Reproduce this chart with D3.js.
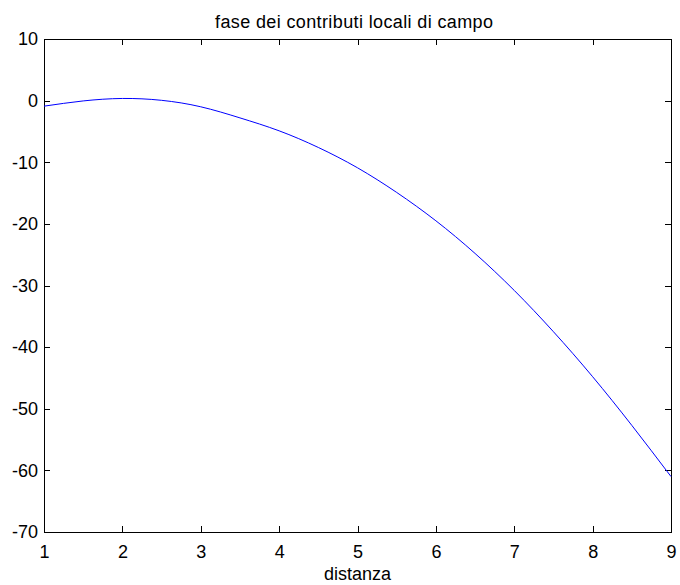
<!DOCTYPE html>
<html lang="en">
<head>
<meta charset="UTF-8">
<title>fase dei contributi locali di campo</title>
<script src="https://d3js.org/d3.v7.min.js"></script>
<style>
  body { margin: 0; background: #fff; }
  text { font-family: Arial, "Liberation Sans", sans-serif; fill: #000; }
  .axis path, .axis line { stroke: #000; shape-rendering: crispEdges; }
</style>
</head>
<body>
<div id="chart"></div>
<script>
// distanza values (x) and phase (y)
var distanza = [1, 1.5, 2, 2.5, 3, 3.5, 4, 4.5, 5, 5.5, 6, 6.5, 7, 7.5, 8, 8.5, 9];
var fase = [-0.9, -0.05, 0.35, 0.05, -1.0, -2.8, -4.9, -7.6, -10.9, -14.9, -19.5, -24.8, -30.8, -37.5, -44.8, -52.7, -61.0];
var xTicks = [1, 2, 3, 4, 5, 6, 7, 8, 9];
var yTicks = [10, 0, -10, -20, -30, -40, -50, -60, -70];

var W = 680, H = 585;
var margin = {top: 39, right: 9, bottom: 53, left: 44};
var width = W - margin.left - margin.right,
    height = H - margin.top - margin.bottom;

var svg = d3.select("#chart").append("svg")
    .attr("width", W)
    .attr("height", H);

var g = svg.append("g")
    .attr("transform", "translate(" + margin.left + "," + margin.top + ")");

var x = d3.scaleLinear().domain([1, 9]).range([0, width]);
var y = d3.scaleLinear().domain([-70, 10]).range([height, 0]);
var plain = function(d) { return String(d); }; // hyphen minus, as in the original

// frame
g.append("rect")
    .attr("width", width)
    .attr("height", height)
    .attr("fill", "none")
    .attr("stroke", "#000")
    .attr("shape-rendering", "crispEdges");

// axes with inward ticks on all four sides
var axBottom = g.append("g").attr("class", "axis")
    .attr("transform", "translate(0," + height + ")")
    .call(d3.axisBottom(x).tickValues(xTicks).tickFormat(plain).tickSize(-6).tickPadding(13).tickSizeOuter(0));
var axTop = g.append("g").attr("class", "axis")
    .call(d3.axisTop(x).tickValues(xTicks).tickSize(-6).tickSizeOuter(0));
axTop.selectAll("text").remove();
var axLeft = g.append("g").attr("class", "axis")
    .call(d3.axisLeft(y).tickValues(yTicks).tickFormat(plain).tickSize(-6).tickPadding(6).tickSizeOuter(0));
var axRight = g.append("g").attr("class", "axis")
    .attr("transform", "translate(" + width + ",0)")
    .call(d3.axisRight(y).tickValues(yTicks).tickSize(-6).tickSizeOuter(0));
axRight.selectAll("text").remove();

g.selectAll(".axis text")
    .style("font-family", "Arial, 'Liberation Sans', sans-serif")
    .style("font-size", "18px")
    .attr("fill", "#000");

// curve
var line = d3.line()
    .x(function(d, i) { return x(distanza[i]); })
    .y(function(d) { return y(d); })
    .curve(d3.curveNatural);

g.append("path")
    .datum(fase)
    .attr("fill", "none")
    .attr("stroke", "#0000ff")
    .attr("stroke-width", 1)
    .attr("d", line);

// title and x label
svg.append("text")
    .attr("x", 354)
    .attr("y", 28)
    .attr("text-anchor", "middle")
    .attr("textLength", 278)
    .attr("lengthAdjust", "spacing")
    .style("font-size", "18px")
    .text("fase dei contributi locali di campo");

svg.append("text")
    .attr("x", margin.left + width / 2)
    .attr("y", 580)
    .attr("text-anchor", "middle")
    .style("font-size", "18px")
    .text("distanza");
</script>
</body>
</html>
